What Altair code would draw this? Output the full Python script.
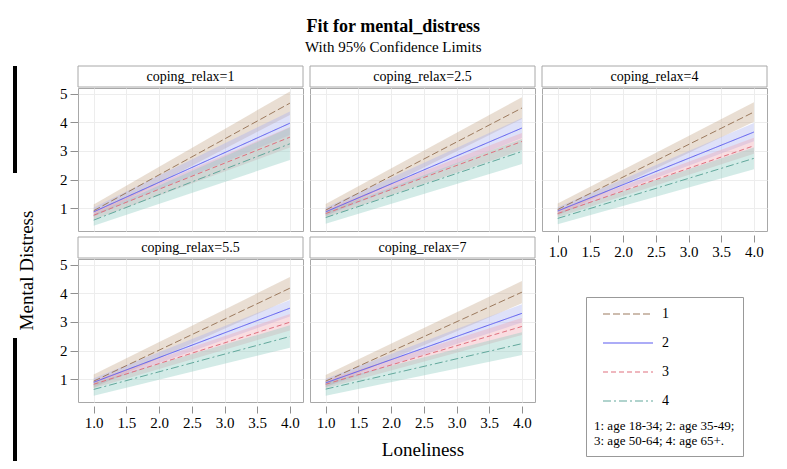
import altair as alt
import pandas as pd

# ---------------- data ----------------
panel_labels = ["coping_relax=1", "coping_relax=2.5", "coping_relax=4",
                "coping_relax=5.5", "coping_relax=7"]
groups = ["1", "2", "3", "4"]
loneliness = [1.0, 4.0]

# rows: panels, columns: age groups 1..4
fit_at_1 = [[0.91, 0.87, 0.75, 0.58],
            [0.93, 0.87, 0.81, 0.67],
            [0.95, 0.90, 0.81, 0.64],
            [0.93, 0.89, 0.82, 0.64],
            [0.93, 0.87, 0.82, 0.65]]
lower_at_1 = [[0.70, 0.72, 0.60, 0.38],
              [0.72, 0.73, 0.67, 0.45],
              [0.74, 0.77, 0.68, 0.44],
              [0.70, 0.75, 0.68, 0.42],
              [0.72, 0.73, 0.68, 0.42]]
upper_at_1 = [[1.13, 1.02, 0.90, 0.78],
              [1.14, 1.01, 0.95, 0.87],
              [1.16, 1.03, 0.94, 0.84],
              [1.16, 1.03, 0.96, 0.86],
              [1.14, 1.01, 0.96, 0.88]]
fit_at_4 = [[4.67, 3.97, 3.48, 3.25],
            [4.50, 3.80, 3.33, 2.98],
            [4.36, 3.66, 3.18, 2.74],
            [4.18, 3.48, 2.99, 2.49],
            [4.04, 3.30, 2.84, 2.24]]
lower_at_4 = [[4.26, 3.56, 3.12, 2.68],
              [4.12, 3.45, 3.03, 2.54],
              [4.02, 3.34, 2.90, 2.36],
              [3.79, 3.19, 2.70, 2.10],
              [3.65, 2.98, 2.54, 1.84]]
upper_at_4 = [[5.08, 4.38, 3.84, 3.82],
              [4.88, 4.15, 3.63, 3.42],
              [4.70, 3.98, 3.46, 3.12],
              [4.57, 3.77, 3.28, 2.88],
              [4.43, 3.62, 3.14, 2.64]]

x_ticks = [1.0, 1.5, 2.0, 2.5, 3.0, 3.5, 4.0]
y_ticks = [1, 2, 3, 4, 5]
legend_note = ["1: age 18-34; 2: age 35-49;", "3: age 50-64; 4: age 65+."]

title_text = "Fit for mental_distress"
subtitle_text = "With 95% Confidence Limits"
x_title = "Loneliness"
y_title = "Mental Distress"

# ---------------- styling ----------------
FONT = "Liberation Serif"
line_colors = ["#9c7a5e", "#5b5bf0", "#e0707e", "#62a89c"]
band_colors = ["#c4a88c", "#a8b0ee", "#f0a6b0", "#8ccbbf"]
dashes = [[7, 3], [1, 0], [5, 3], [8, 3, 2, 3]]
W, H = 225, 143
FRAME = "#a8a8a8"

rows = []
for p, lab in enumerate(panel_labels):
    for g, grp in enumerate(groups):
        rows.append(dict(panel=lab, group=grp, x=loneliness[0], fit=fit_at_1[p][g],
                         lo=lower_at_1[p][g], hi=upper_at_1[p][g]))
        rows.append(dict(panel=lab, group=grp, x=loneliness[1], fit=fit_at_4[p][g],
                         lo=lower_at_4[p][g], hi=upper_at_4[p][g]))
df = pd.DataFrame(rows)

xscale = alt.Scale(domain=[0.76, 4.2], nice=False, zero=False)
yscale = alt.Scale(domain=[0.2, 5.2], nice=False, zero=False)

legend = alt.Legend(
    title=legend_note, orient="none", legendX=508, legendY=209,
    titleOrient="bottom", titleAnchor="start", titleFont=FONT, titleFontSize=13,
    titleFontWeight="normal", titleColor="black", titleLineHeight=15, titlePadding=10,
    titleLimit=400,
    symbolType="stroke", symbolSize=2500, symbolStrokeWidth=1.2, symbolOffset=8,
    clipHeight=18,
    labelFont=FONT, labelFontSize=14, labelColor="black", labelOffset=8,
    strokeColor="#999999", fillColor="white", padding=8, rowPadding=11,
)

one = pd.DataFrame({"k": [0]})


def frame_piece(x0, x1, y0, y1):
    # black left border line of the reference picture (decoration only)
    return alt.Chart(one).mark_rect(color="black").encode(
        x=alt.value(x0), x2=alt.value(x1), y=alt.value(y0), y2=alt.value(y1))


def plot_panel(p):
    d = df[df.panel == panel_labels[p]]
    show_x = p >= 2
    show_y = p in (0, 3)
    xa = dict(values=x_ticks, format=".1f", grid=True, domain=False,
              labels=show_x, ticks=show_x, tickSize=7, labelPadding=2)
    if show_x:
        xa.update(offset=4)
    ya = dict(values=y_ticks, grid=True, domain=False,
              labels=show_y, ticks=show_y, tickSize=8, labelPadding=3)
    if p == 4:
        xa.update(titleY=43, titleBaseline="middle")
    if p == 3:
        ya.update(titleX=-52, titleY=11, titleAngle=270, titleBaseline="middle",
                  titleAlign="center")
    xt = x_title if p == 4 else None
    yt = y_title if p == 3 else None

    head = pd.DataFrame({"label": [panel_labels[p]]})
    box = alt.Chart(head).mark_rect(fill="white", stroke=FRAME, strokeWidth=1).encode(
        x=alt.value(0), x2=alt.value(W), y=alt.value(-22), y2=alt.value(-1))
    txt = alt.Chart(head).mark_text(font=FONT, fontSize=14, color="black",
                                    baseline="middle").encode(
        text="label:N", x=alt.value(W / 2), y=alt.value(-11.5))

    band = alt.Chart(d).mark_area(opacity=0.38).encode(
        x=alt.X("x:Q", scale=xscale, axis=alt.Axis(**xa), title=xt),
        y=alt.Y("lo:Q", scale=yscale, axis=alt.Axis(**ya), title=yt),
        y2="hi:Q",
        fill=alt.Fill("group:N", scale=alt.Scale(range=band_colors), legend=None),
    )
    line = alt.Chart(d).mark_line(strokeWidth=1).encode(
        x=alt.X("x:Q", scale=xscale, axis=alt.Axis(**xa), title=xt),
        y=alt.Y("fit:Q", scale=yscale, axis=alt.Axis(**ya), title=yt),
        color=alt.Color("group:N", scale=alt.Scale(domain=groups, range=line_colors),
                        legend=legend),
        strokeDash=alt.StrokeDash("group:N", scale=alt.Scale(domain=groups, range=dashes),
                                  legend=legend),
    )
    layers = [band, line, box, txt]
    if p == 3:
        # left page border, relative to this panel's plot origin
        layers += [
            frame_piece(-65, -61, -193, -86),
            frame_piece(-65, -61, 79, 202),
        ]
    return alt.layer(*layers).properties(width=W, height=H)


panels = [plot_panel(p) for p in range(len(panel_labels))]

chart = alt.concat(
    *panels, columns=3, spacing={"row": 28, "column": 7}, bounds="flush",
    title=alt.Title(title_text, subtitle=subtitle_text, font=FONT, fontSize=18,
                    fontWeight="bold", color="black", subtitleFont=FONT,
                    subtitleFontSize=15, subtitleColor="black", subtitlePadding=4,
                    anchor="middle", offset=10, dx=3),
).resolve_scale(
    color="shared", strokeDash="shared", fill="shared"
).resolve_legend(
    color="shared", strokeDash="shared"
).properties(
    padding={"left": 4, "top": 10, "right": 4, "bottom": 0}
).configure(
    font=FONT
).configure_view(
    stroke=FRAME, strokeWidth=1
).configure_axis(
    labelFont=FONT, labelFontSize=15, labelColor="black",
    titleFont=FONT, titleFontSize=19, titleFontWeight="normal", titleColor="black",
    tickColor="#909090", gridColor="#ededed", gridWidth=1
)

chart.save("out.html", embed_options={"renderer": "svg", "actions": False})
